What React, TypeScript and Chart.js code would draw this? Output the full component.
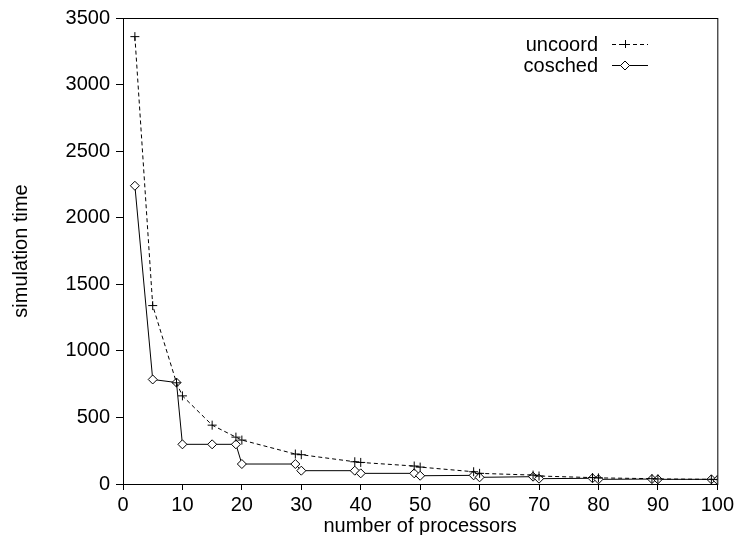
import React, { useEffect, useRef } from "react";
import { Chart, registerables } from "chart.js";

Chart.register(...registerables);

const processors = [2, 5, 9, 10, 15, 19, 20, 29, 30, 39, 40, 49, 50, 59, 60, 69, 70, 79, 80, 89, 90, 99, 100];
const uncoord = [3360, 1340, 760, 662, 442, 352, 330, 225, 220, 167, 162, 135, 127, 92, 80, 67, 60, 48, 46, 40, 38, 35, 33];
const cosched = [2240, 785, 762, 298, 298, 298, 150, 150, 100, 100, 80, 80, 62, 65, 50, 55, 40, 43, 35, 37, 35, 35, 30];
const seriesNames = ["uncoord", "cosched"];
const xAxisTitle = "number of processors";
const yAxisTitle = "simulation time";

const FONT = '"Liberation Sans", Arial, sans-serif';

const boxAndLegend = {
  id: "boxAndLegend",
  afterDraw(chart: any) {
    const { ctx, chartArea } = chart;
    ctx.save();
    ctx.strokeStyle = "#000";
    ctx.lineWidth = 1;
    ctx.strokeRect(chartArea.left + 0.5, chartArea.top + 0.5, chartArea.right - chartArea.left, chartArea.bottom - chartArea.top);

    // legend
    ctx.font = `20px ${FONT}`;
    ctx.fillStyle = "#000";
    ctx.textAlign = "right";
    ctx.textBaseline = "middle";
    const tx = 598;
    const ys = [44, 65];
    seriesNames.forEach((n, i) => ctx.fillText(n, tx, ys[i] + 1));

    const x0 = 612, x1 = 648, mx = 625;
    // uncoord dashed + cross
    ctx.beginPath();
    ctx.setLineDash([4, 3]);
    ctx.moveTo(x0, ys[0] + 0.5);
    ctx.lineTo(x1, ys[0] + 0.5);
    ctx.stroke();
    ctx.setLineDash([]);
    ctx.beginPath();
    ctx.moveTo(mx - 4, ys[0] + 0.5);
    ctx.lineTo(mx + 4, ys[0] + 0.5);
    ctx.moveTo(mx + 0.5, ys[0] - 4);
    ctx.lineTo(mx + 0.5, ys[0] + 4);
    ctx.stroke();
    // cosched solid + diamond
    ctx.beginPath();
    ctx.moveTo(x0, ys[1] + 0.5);
    ctx.lineTo(x1, ys[1] + 0.5);
    ctx.stroke();
    ctx.beginPath();
    const r = 4.5;
    const cy = ys[1] + 0.5;
    ctx.moveTo(mx, cy - r);
    ctx.lineTo(mx + r, cy);
    ctx.lineTo(mx, cy + r);
    ctx.lineTo(mx - r, cy);
    ctx.closePath();
    ctx.fillStyle = "#fff";
    ctx.fill();
    ctx.stroke();
    ctx.restore();
  },
};

export default function App() {
  const ref = useRef<HTMLCanvasElement>(null);
  useEffect(() => {
    if (!ref.current) return;
    const chart = new Chart(ref.current, {
      type: "line",
      data: {
        datasets: [
          {
            label: seriesNames[0],
            data: processors.map((x, i) => ({ x, y: uncoord[i] })),
            borderColor: "#000",
            borderWidth: 1,
            borderDash: [4, 3],
            pointStyle: "cross",
            pointRadius: 4.5,
            pointBorderColor: "#000",
            pointBorderWidth: 1,
            fill: false,
            tension: 0,
          },
          {
            label: seriesNames[1],
            data: processors.map((x, i) => ({ x, y: cosched[i] })),
            borderColor: "#000",
            borderWidth: 1,
            pointStyle: "rectRot",
            pointRadius: 4.5,
            pointBackgroundColor: "#fff",
            pointBorderColor: "#000",
            pointBorderWidth: 1,
            fill: false,
            tension: 0,
          },
        ],
      },
      options: {
        animation: false,
        responsive: false,
        devicePixelRatio: 1,
        layout: { padding: { top: 17, right: 19, left: 0, bottom: 0 } },
        plugins: { legend: { display: false }, tooltip: { enabled: false } },
        scales: {
          x: {
            type: "linear",
            min: 0,
            max: 100,
            ticks: { stepSize: 10, color: "#000", font: { family: FONT, size: 20 }, padding: 3, maxRotation: 0, callback: (v: any) => String(v) },
            grid: { drawOnChartArea: false, drawTicks: true, tickLength: 6, color: "#000" },
            border: { color: "#000", width: 1 },
            title: { display: true, text: xAxisTitle, color: "#000", font: { family: FONT, size: 20, lineHeight: 0.9 }, padding: { top: 0, bottom: 0 } },
            afterFit: (s: any) => { s.height = 51; },
          },
          y: {
            type: "linear",
            min: 0,
            max: 3500,
            ticks: { stepSize: 500, color: "#000", font: { family: FONT, size: 20 }, padding: 6, callback: (v: any) => String(v) },
            grid: { drawOnChartArea: false, drawTicks: true, tickLength: 7, color: "#000" },
            border: { color: "#000", width: 1 },
            title: { display: true, text: yAxisTitle, color: "#000", font: { family: FONT, size: 20, lineHeight: 1 }, padding: { top: 11, bottom: 0 } },
            afterFit: (s: any) => { s.width = 123; },
          },
        },
      },
      plugins: [boxAndLegend],
    });
    return () => chart.destroy();
  }, []);
  return (
    <div style={{ position: "fixed", left: 0, top: 0, width: 737, height: 535, background: "#fff" }}>
      <canvas ref={ref} width={737} height={535} />
    </div>
  );
}
